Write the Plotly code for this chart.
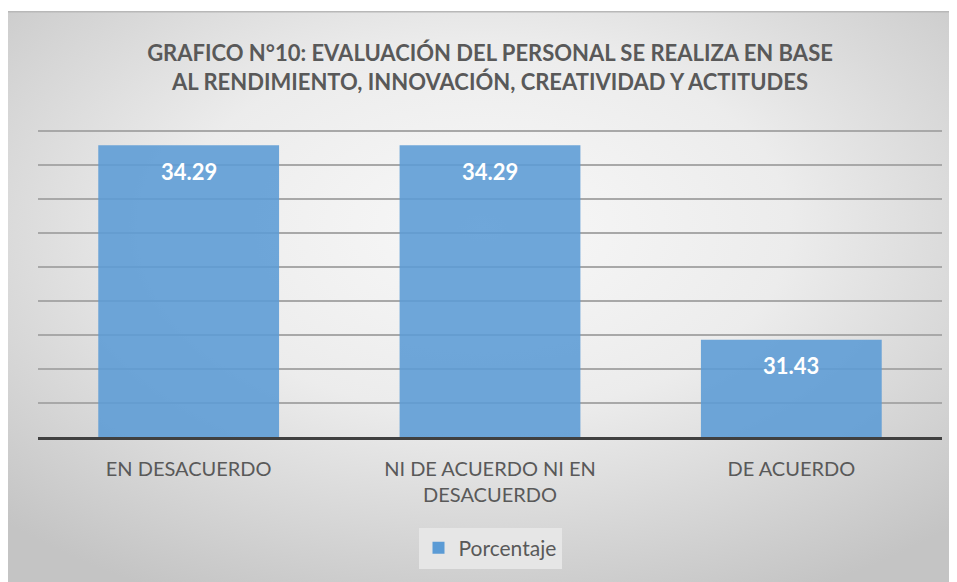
import base64
import plotly.graph_objects as go

categories = ["EN DESACUERDO", "NI DE ACUERDO NI EN<br>DESACUERDO", "DE ACUERDO"]
values = [34.29, 34.29, 31.43]
series_name = "Porcentaje"
title_text = "GRAFICO N°10: EVALUACIÓN DEL PERSONAL SE REALIZA EN BASE<br>AL RENDIMIENTO, INNOVACIÓN, CREATIVIDAD Y ACTITUDES"

# page body has an 8px margin; figure occupies the remaining area
W, H = 949, 574
L, R, T, B = 30, 15, 121, 145
pw, ph = W - L - R, H - T - B

svg = """<svg xmlns='http://www.w3.org/2000/svg' width='949' height='571' viewBox='0 0 949 571' preserveAspectRatio='none'>
<defs><radialGradient id='g' cx='50%' cy='38%' r='72%' fx='50%' fy='38%'>
<stop offset='0%' stop-color='#f8f8f8'/>
<stop offset='45%' stop-color='#ececec'/>
<stop offset='100%' stop-color='#c4c4c4'/>
</radialGradient></defs>
<rect width='949' height='571' fill='url(#g)'/>
<rect x='0' y='0' width='949' height='1.5' fill='#b8b8b8'/>
</svg>"""
src = "data:image/svg+xml;base64," + base64.b64encode(svg.encode()).decode()

img_x0, img_y0 = 0, 3
fig = go.Figure()
fig.add_trace(go.Bar(
    x=categories, y=values, name=series_name,
    marker=dict(color="#5b9bd5", opacity=0.88, line=dict(width=0)),
    textposition="none",
    showlegend=True,
))

annotations = [
    dict(x=c, y=v, xref="x", yref="y", text=f"{v:.2f}", showarrow=False,
         yshift=-26, yanchor="middle",
         font=dict(family="Lato", size=22, color="white", weight="bold"))
    for c, v in zip(categories, values)
]

fig.update_layout(
    width=W, height=H,
    margin=dict(l=L, r=R, t=T, b=B),
    paper_bgcolor="white",
    plot_bgcolor="rgba(0,0,0,0)",
    bargap=0.4,
    title=dict(text=title_text, x=0.5, xanchor="center", xref="paper",
               y=1 - 53 / H, yanchor="middle", yref="container",
               font=dict(family="Lato", size=22, color="#595959", weight="bold")),
    xaxis=dict(showgrid=False, showline=True, linecolor="#404040", linewidth=3,
               ticks="outside", ticklen=12, tickcolor="rgba(0,0,0,0)",
               tickfont=dict(family="Lato", size=20, color="#595959")),
    yaxis=dict(range=[30, 34.53], dtick=0.5, showgrid=True, gridcolor="#a8a8a8",
               gridwidth=1.5, showticklabels=False, zeroline=False, showline=False),
    legend=dict(orientation="h", x=0.5, xanchor="center", y=-(540 - 429) / ph,
                yanchor="middle", bgcolor="#e6e6e6",
                font=dict(family="Lato", size=21, color="#595959"),
                itemwidth=30),
    annotations=annotations,
    images=[dict(source=src, xref="paper", yref="paper",
                 x=(img_x0 - L) / pw, y=(H - B - img_y0) / ph,
                 sizex=(W - img_x0) / pw, sizey=(H - img_y0) / ph,
                 xanchor="left", yanchor="top", sizing="stretch", layer="below")],
)

fig.write_html("out.html")
